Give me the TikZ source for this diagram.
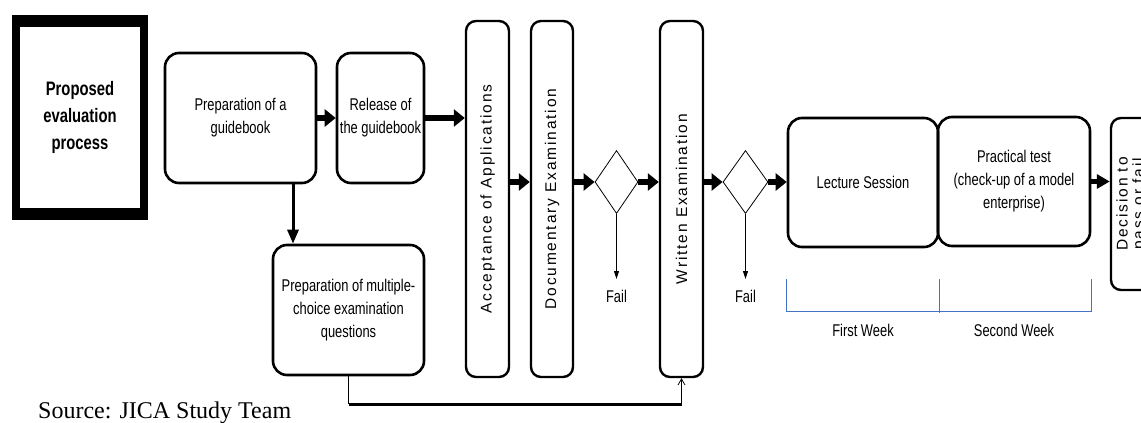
\documentclass[tikz,border=0pt]{standalone}
\usepackage{fontspec}
\setmainfont{Liberation Serif}
\newfontfamily\nfont[FakeStretch=0.76]{Liberation Sans}
\newfontfamily\wfont[LetterSpace=12]{Liberation Sans}
\usetikzlibrary{arrows.meta,shapes.geometric,calc}

\begin{document}
\begin{tikzpicture}[x=1pt,y=-1pt,
  lbl/.style={font=\nfont\fontsize{17}{23}\selectfont, align=center},
  rbox/.style={draw, line width=2.6pt, rounded corners=14pt, inner sep=0pt, lbl},
  vbox/.style={draw, line width=2.4pt, rounded corners=10pt, inner sep=0pt,
    minimum width=43pt, minimum height=356pt, font=\wfont\fontsize{15.5}{16}\selectfont},
  dia/.style={draw, line width=0.8pt, diamond, inner sep=0pt,
    minimum width=43pt, minimum height=63pt},
  bigarrow/.style={line width=6pt, -{Triangle[length=11pt,width=17pt]}},
  downarrow/.style={line width=3pt, -{Triangle[length=14pt,width=11pt]}},
  failarrow/.style={line width=0.8pt, -{Triangle[length=8pt,width=5pt]}},
  week/.style={draw=weekblue, line width=1.2pt},
]
\definecolor{weekblue}{HTML}{4472C4}
\useasboundingbox (0,0) rectangle (1141,423);
\clip (0,0) rectangle (1141,423);

% title block with heavy frame
\node[fill=black, minimum width=136pt, minimum height=205pt, inner sep=0pt] (prop) at (80,117.5) {};
\node[fill=white, minimum width=120pt, minimum height=181pt, inner sep=0pt, align=center,
  font=\nfont\bfseries\fontsize{19.5}{27}\selectfont] (propin) at (prop.center)
  {Proposed\\evaluation\\process};

% preparation steps
\node[rbox, minimum width=151pt, minimum height=130pt] (guide) at (240.5,118) {Preparation of a\\guidebook};
\node[rbox, minimum width=87pt, minimum height=130pt] (rel) at (380.5,118) {Release of\\the guidebook};
\node[rbox, minimum width=151pt, minimum height=130pt] (multi) at (348.5,310)
  {Preparation of multiple-\\choice examination\\questions};

% tall vertical steps
\node[vbox] (acc) at (487.5,199) {\rotatebox{90}{Acceptance of Applications}};
\node[vbox, minimum width=42pt] (doc) at (552,199) {\rotatebox{90}{Documentary Examination}};
\node[vbox] (wr) at (681.5,199) {\rotatebox{90}{Written Examination}};

% decisions
\node[dia] (d1) at (616.5,182) {};
\node[dia, minimum width=45pt] (d2) at (745.5,182) {};
\node[lbl, anchor=north, inner sep=0pt] (f1) at (616.5,290) {Fail};
\node[lbl, anchor=north, inner sep=0pt] (f2) at (745.5,290) {Fail};

% training steps
\node[rbox, minimum width=150pt, minimum height=129pt] (lec) at (863,182.5) {Lecture Session};
\node[rbox, minimum width=152pt, minimum height=129pt] (prac) at (1014,181.5)
  {Practical test\\(check-up of a model\\enterprise)};
\node[vbox, minimum height=172pt] (dec) at (1132.5,204)
  {\rotatebox{90}{\renewcommand\arraystretch{1}\begin{tabular}{@{}c@{}}Decision to\\pass or fail\end{tabular}}};

% main flow
\draw[bigarrow] (guide.east) -- (rel.west);
\draw[bigarrow] (rel.east) -- (acc.west |- rel.east);
\draw[bigarrow] (acc.east |- d1.west) -- (doc.west |- d1.west);
\draw[bigarrow] (doc.east |- d1.west) -- (d1.west);
\draw[bigarrow] (d1.east) -- (wr.west |- d1.east);
\draw[bigarrow] (wr.east |- d2.west) -- (d2.west);
\draw[bigarrow] (d2.east) -- (lec.west |- d2.east);
\draw[line width=5pt, -{Triangle[length=13pt,width=14pt]}] (prac.east) -- (dec.west |- prac.east);

% branch to question preparation
\coordinate (gq) at (293,0);
\draw[downarrow] (guide.south -| gq) -- (multi.north -| gq);

% failure exits
\draw[failarrow] (d1.south) -- ($(f1.north)+(0,-11)$);
\draw[failarrow] (d2.south) -- ($(f2.north)+(0,-11)$);

% questions feed the written examination
\coordinate (c1) at ($(multi.south)+(0,28)$);
\coordinate (c2) at (wr.south |- c1);
\draw[line width=0.8pt] (multi.south) -- (c1);
\draw[line width=3pt] (c1) -- (c2);
\draw[line width=0.8pt, -{Straight Barb[length=6pt,width=7pt]}] (c2) -- (wr.south);

% week brackets
\draw[week] ($(lec.south west)+(0,31)$) |- ($(prac.south east)+(0,64)$) -- ($(prac.south east)+(0,32)$);
\draw[week] ($(lec.south east)+(0,31)$) -- ($(lec.south east)+(0,65)$);
\node[lbl] (w1) at ($(lec.south)+(0,82)$) {First Week};
\node[lbl] (w2) at ($(prac.south)+(0,83)$) {Second Week};

% source note
\node[anchor=base west, inner sep=0pt, font=\fontsize{24}{28}\selectfont] (src) at (38,418) {Source: JICA Study Team};
\end{tikzpicture}
\end{document}
